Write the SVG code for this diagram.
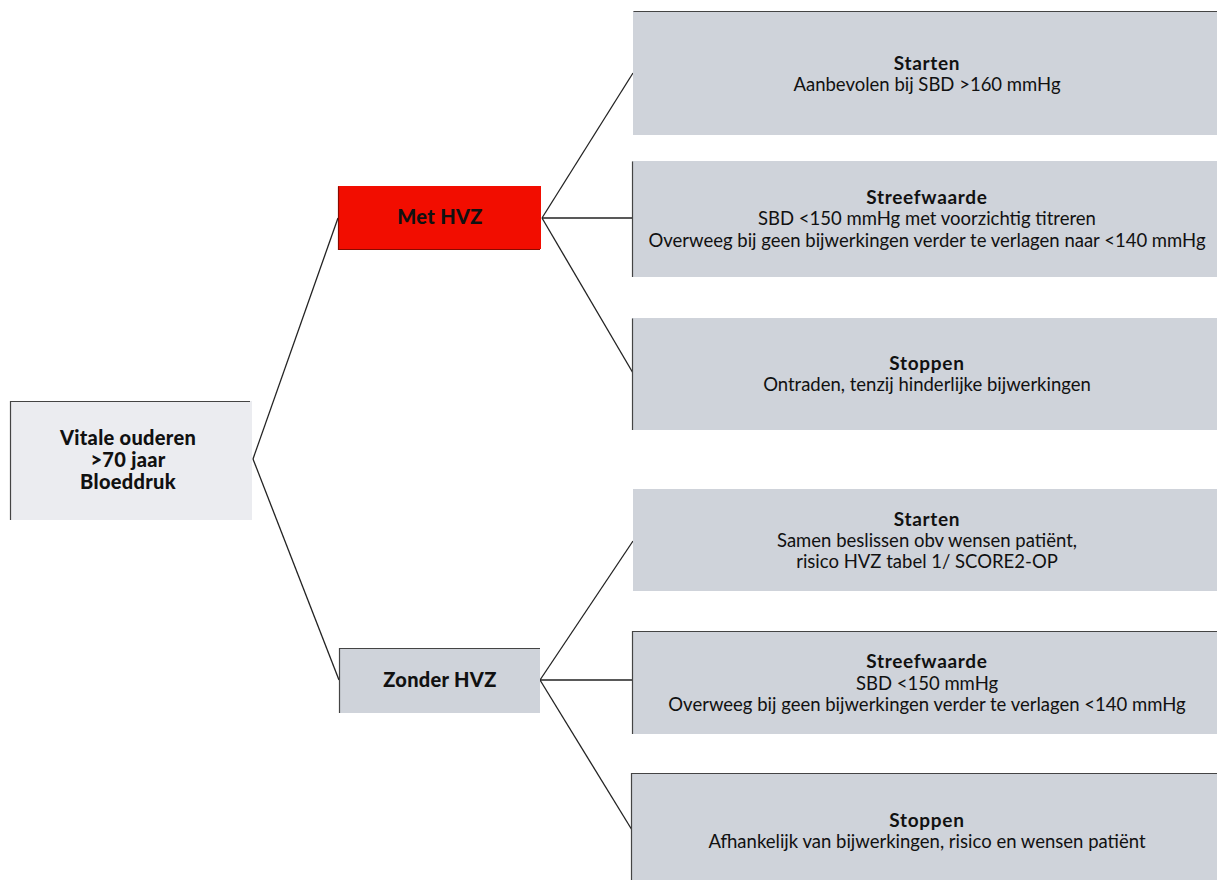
<svg xmlns="http://www.w3.org/2000/svg" width="1217" height="880" viewBox="0 0 1217 880">
<style>
.box{fill:#cfd3da}
.edge{stroke:#444;stroke-width:1.2;fill:none}
.conn{stroke:#222;stroke-width:1.3;fill:none}
.t{font-family:Lato,"Liberation Sans",sans-serif;font-size:18.5px;fill:#111;text-anchor:middle}
.b{font-weight:bold;font-size:19px;letter-spacing:0.7px}
.h{font-family:Lato,"Liberation Sans",sans-serif;font-size:20px;font-weight:900;letter-spacing:0.3px;fill:#111;text-anchor:middle}
</style>
<rect width="1217" height="880" fill="#fff"/>
<g id="connectors">
<line class="conn" x1="253" y1="459" x2="338" y2="218"/>
<line class="conn" x1="253" y1="459" x2="339" y2="680"/>
<line class="conn" x1="542" y1="218" x2="633" y2="73"/>
<line class="conn" x1="542" y1="218" x2="633" y2="218"/>
<line class="conn" x1="542" y1="218" x2="633" y2="373"/>
<line class="conn" x1="540" y1="680" x2="633" y2="541"/>
<line class="conn" x1="540" y1="680" x2="633" y2="680"/>
<line class="conn" x1="540" y1="680" x2="632" y2="830"/>
</g>
<g id="root">
<rect x="10" y="401" width="242" height="119" fill="#ebecf0"/>
<path class="edge" d="M10.5 520V401.5H250"/>
<text class="h" x="128" y="445">Vitale ouderen</text>
<text class="h" x="128" y="467">&gt;70 jaar</text>
<text class="h" x="128" y="489">Bloeddruk</text>
</g>
<g id="met-hvz">
<rect x="338" y="186" width="203" height="63" fill="#f20d00"/>
<path d="M338.5 186.5V249.5H540" stroke="#8a0a00" stroke-width="1.2" fill="none"/>
<text class="h" x="440" y="224">Met HVZ</text>
</g>
<g id="zonder-hvz">
<rect class="box" x="339" y="648" width="201" height="65"/>
<path class="edge" d="M339.5 713V648.5H540"/>
<text class="h" x="440" y="687">Zonder HVZ</text>
</g>
<g id="met-starten">
<rect class="box" x="633" y="11" width="584" height="124"/>
<path class="edge" d="M633.5 11.5H1217"/>
<text class="t b" x="927" y="70">Starten</text>
<text class="t" x="927" y="91">Aanbevolen bij SBD &gt;160 mmHg</text>
</g>
<g id="met-streefwaarde">
<rect class="box" x="632" y="161" width="585" height="116"/>
<path class="edge" d="M632.5 277V161.5"/>
<text class="t b" x="927" y="204">Streefwaarde</text>
<text class="t" x="927" y="225">SBD &lt;150 mmHg met voorzichtig titreren</text>
<text class="t" x="927" y="247">Overweeg bij geen bijwerkingen verder te verlagen naar &lt;140 mmHg</text>
</g>
<g id="met-stoppen">
<rect class="box" x="632" y="318" width="585" height="112"/>
<path class="edge" d="M632.5 430V318.5"/>
<text class="t b" x="927" y="370">Stoppen</text>
<text class="t" x="927" y="391">Ontraden, tenzij hinderlijke bijwerkingen</text>
</g>
<g id="zonder-starten">
<rect class="box" x="633" y="489" width="584" height="102"/>
<text class="t b" x="927" y="526">Starten</text>
<text class="t" x="927" y="547">Samen beslissen obv wensen patiënt,</text>
<text class="t" x="927" y="568">risico HVZ tabel 1/ SCORE2-OP</text>
</g>
<g id="zonder-streefwaarde">
<rect class="box" x="632" y="631" width="585" height="103"/>
<path class="edge" d="M632.5 734V631.5H1217"/>
<text class="t b" x="927" y="668">Streefwaarde</text>
<text class="t" x="927" y="690">SBD &lt;150 mmHg</text>
<text class="t" x="927" y="711">Overweeg bij geen bijwerkingen verder te verlagen &lt;140 mmHg</text>
</g>
<g id="zonder-stoppen">
<rect class="box" x="631" y="773" width="586" height="107"/>
<path class="edge" d="M631.5 880V773.5H1217"/>
<text class="t b" x="927" y="827">Stoppen</text>
<text class="t" x="927" y="848">Afhankelijk van bijwerkingen, risico en wensen patiënt</text>
</g>
</svg>
